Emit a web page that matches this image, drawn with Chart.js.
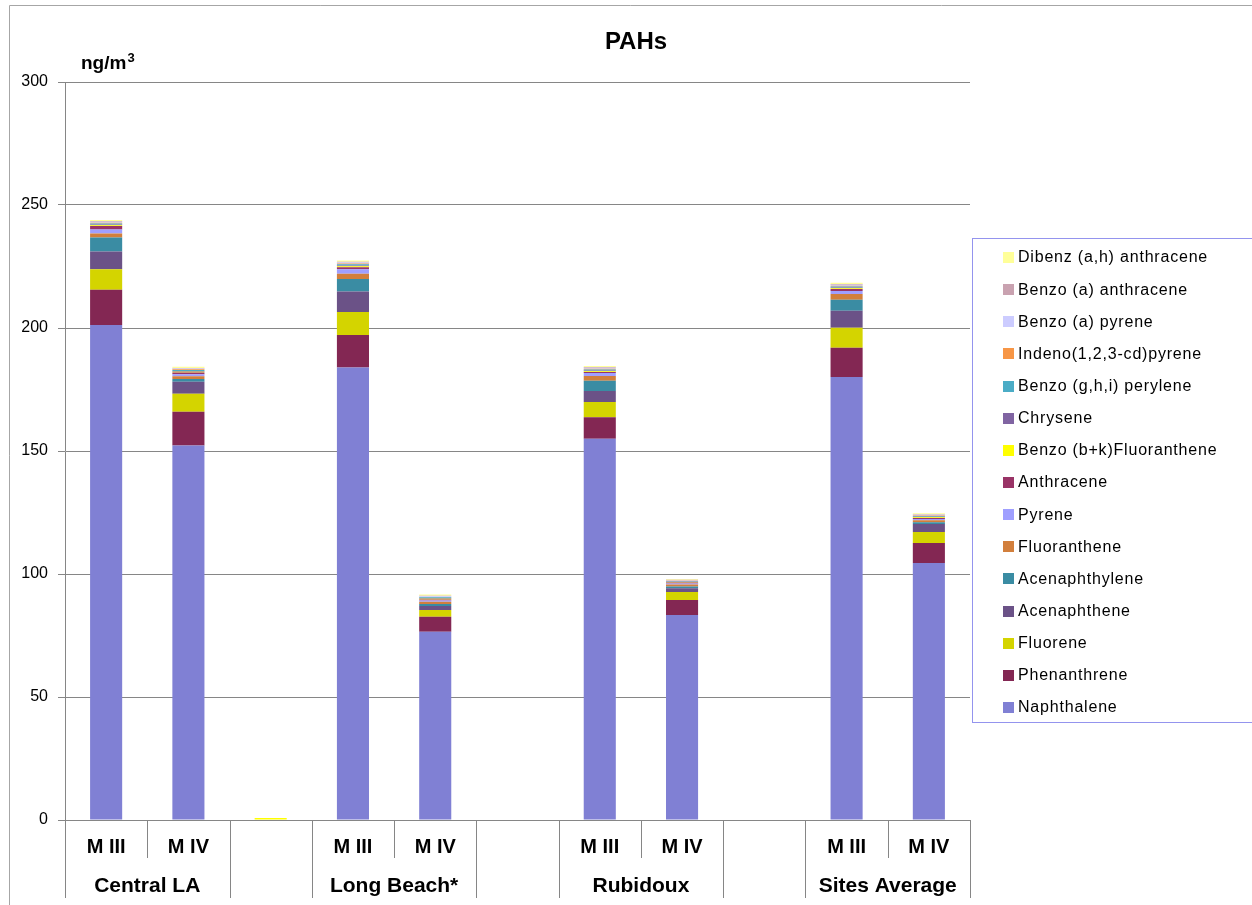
<!DOCTYPE html>
<html>
<head>
<meta charset="utf-8">
<title>PAHs</title>
<script src="https://cdn.jsdelivr.net/npm/chart.js@4/dist/chart.umd.min.js"></script>
<style>
  body { margin: 0; background: #fff; }
  #wrap { width: 1252px; height: 905px; }
</style>
</head>
<body>
<div id="wrap"><canvas id="pahChart" width="1252" height="905"></canvas></div>
<script>
/////////////////////////////////////////////////////
// Data
/////////////////////////////////////////////////////

// 11 slots: two per site plus an empty slot between sites
var categories = ["M III", "M IV", "", "M III", "M IV", "", "M III", "M IV", "", "M III", "M IV"];

// site labels and the first slot each one covers (span of 2, gaps have no label)
var groupNames = ["Central LA", "Long Beach*", "Rubidoux", "Sites Average"];
var groupStarts = [0, 3, 6, 9];

var yTicks = [0, 50, 100, 150, 200, 250, 300];

// series, bottom of the stack first (ng/m3)
var naphthalene    = [201.2, 152.2, 0, 183.9, 76.5, 0, 155.0, 83.3, 0, 180.1, 104.5];
var phenanthrene   = [14.3, 13.8, 0, 13.3, 6.1, 0, 8.7, 6.1, 0, 11.9, 8.1];
var fluorene       = [8.4, 7.3, 0, 9.3, 2.8, 0, 6.2, 3.3, 0, 8.1, 4.5];
var acenaphthene   = [7.2, 4.9, 0, 8.3, 1.6, 0, 4.5, 1.5, 0, 6.9, 3.2];
var acenaphthylene = [5.7, 1.1, 0, 5.1, 0.8, 0, 4.2, 0.7, 0, 4.5, 0.7];
var fluoranthene   = [1.6, 1.1, 0, 2.2, 0.9, 0, 1.9, 0.8, 0, 2.3, 0.9];
var pyrene         = [1.6, 0.8, 0, 1.8, 0.5, 0, 1.2, 0.4, 0, 1.2, 0.5];
var anthracene     = [1.5, 0.7, 0, 0.8, 0.4, 0, 0.4, 0.4, 0, 0.9, 0.4];
var benzoBK        = [0.3, 0.3, 0.8, 0.4, 0.3, 0, 0.3, 0.2, 0, 0.3, 0.3];
var chrysene       = [0.3, 0.3, 0, 0.3, 0.3, 0, 0.3, 0.2, 0, 0.3, 0.2];
var benzoGHI       = [0.4, 0.4, 0, 0.5, 0.3, 0, 0.4, 0.2, 0, 0.4, 0.3];
var indeno         = [0.3, 0.3, 0, 0.3, 0.2, 0, 0.3, 0.2, 0, 0.3, 0.2];
var benzoAP        = [0.4, 0.3, 0, 0.4, 0.3, 0, 0.4, 0.2, 0, 0.4, 0.3];
var benzoAA        = [0.3, 0.2, 0, 0.3, 0.2, 0, 0.3, 0.2, 0, 0.3, 0.2];
var dibenzAH       = [0.4, 0.5, 0, 0.5, 0.5, 0, 0.5, 0.3, 0, 0.5, 0.4];

var seriesNames = [
  "Naphthalene", "Phenanthrene", "Fluorene", "Acenaphthene", "Acenaphthylene",
  "Fluoranthene", "Pyrene", "Anthracene", "Benzo (b+k)Fluoranthene", "Chrysene",
  "Benzo (g,h,i) perylene", "Indeno(1,2,3-cd)pyrene", "Benzo (a) pyrene",
  "Benzo (a) anthracene", "Dibenz (a,h) anthracene"
];
var seriesData = [
  naphthalene, phenanthrene, fluorene, acenaphthene, acenaphthylene,
  fluoranthene, pyrene, anthracene, benzoBK, chrysene,
  benzoGHI, indeno, benzoAP, benzoAA, dibenzAH
];
var seriesColors = [
  "#8080d4", "#832753", "#d4d400", "#6b5287", "#3a8ca3",
  "#d27f3c", "#9f9fff", "#993366", "#ffff00", "#8064a2",
  "#4bacc6", "#f79646", "#ccccff", "#c9a2b0", "#ffff99"
];

var FONT = "'Liberation Sans', Arial, sans-serif";

/////////////////////////////////////////////////////
// Extra drawing: frame, titles, category separators, legend
/////////////////////////////////////////////////////

var decorations = {
  id: "decorations",
  afterDraw: function(chart) {
    var ctx = chart.ctx;
    var area = chart.chartArea;
    var x = chart.scales.x;
    ctx.save();

    // outer frame (only top and left are visible)
    ctx.strokeStyle = "#a6a6a6";
    ctx.lineWidth = 1;
    ctx.beginPath();
    ctx.moveTo(9.5, 905);
    ctx.lineTo(9.5, 5.5);
    ctx.lineTo(1252, 5.5);
    ctx.stroke();

    // title
    ctx.fillStyle = "#000";
    ctx.textAlign = "center";
    ctx.textBaseline = "middle";
    ctx.font = "bold 24px " + FONT;
    ctx.fillText("PAHs", 636, 42);

    // unit label
    ctx.textAlign = "left";
    ctx.font = "bold 19px " + FONT;
    ctx.fillText("ng/m", 81, 64);
    var w = ctx.measureText("ng/m").width;
    ctx.font = "bold 13px " + FONT;
    ctx.fillText("3", 81 + w + 1, 58);

    // category separators: long ones between sites, short ones inside a site
    var longBottom = 898, shortBottom = 858;
    ctx.strokeStyle = "#868686";
    for (var i = 0; i <= categories.length; i++) {
      var px;
      if (i === 0) px = area.left;
      else if (i === categories.length) px = area.right;
      else px = (x.getPixelForValue(i - 1) + x.getPixelForValue(i)) / 2;
      var inside = groupStarts.indexOf(i - 1) !== -1;
      ctx.beginPath();
      ctx.moveTo(Math.round(px) + 0.5, area.bottom);
      ctx.lineTo(Math.round(px) + 0.5, inside ? shortBottom : longBottom);
      ctx.stroke();
    }

    // site labels
    ctx.textAlign = "center";
    ctx.font = "bold 21px " + FONT;
    for (var g = 0; g < groupNames.length; g++) {
      var s = groupStarts[g];
      var cx = (x.getPixelForValue(s) + x.getPixelForValue(s + 1)) / 2;
      ctx.fillText(groupNames[g], cx, 886);
    }

    // legend box, top item is the last series
    var boxX = 972.5, boxY = 238.5;
    ctx.strokeStyle = "#9494ee";
    ctx.strokeRect(boxX, boxY, 300, 484);
    ctx.textAlign = "left";
    ctx.font = "16px " + FONT;
    ctx.letterSpacing = "0.8px";
    var n = seriesNames.length;
    for (var k = 0; k < n; k++) {
      var idx = n - 1 - k;
      var cy = 257 + k * 32.14;
      ctx.fillStyle = seriesColors[idx];
      ctx.fillRect(1003, Math.round(cy) - 5, 11, 11);
      ctx.fillStyle = "#000";
      ctx.fillText(seriesNames[idx], 1018, cy + 1);
    }
    ctx.letterSpacing = "0px";

    ctx.restore();
  }
};

/////////////////////////////////////////////////////
// Chart
/////////////////////////////////////////////////////

var datasets = [];
for (var d = 0; d < seriesData.length; d++) {
  datasets.push({
    label: seriesNames[d],
    data: seriesData[d],
    backgroundColor: seriesColors[d],
    borderWidth: 0,
    categoryPercentage: 1.0,
    barPercentage: 0.39
  });
}

var ctx = document.getElementById("pahChart").getContext("2d");
var pahChart = new Chart(ctx, {
  type: "bar",
  data: {
    labels: categories,
    datasets: datasets
  },
  options: {
    responsive: false,
    animation: false,
    layout: {
      padding: { top: 82, right: 282, left: 0, bottom: 0 }
    },
    plugins: {
      legend: { display: false },
      title: { display: false },
      tooltip: { enabled: false }
    },
    scales: {
      x: {
        stacked: true,
        grid: { display: false, drawTicks: false },
        border: { display: false },
        ticks: {
          color: "#000",
          font: { family: FONT, size: 20, weight: "bold" },
          padding: 15,
          maxRotation: 0,
          autoSkip: false
        },
        afterFit: function(scale) { scale.height = 85; }
      },
      y: {
        stacked: true,
        min: 0,
        max: 300,
        afterBuildTicks: function(scale) {
          scale.ticks = yTicks.map(function(v) { return { value: v }; });
        },
        grid: { color: "#868686", tickLength: 7 },
        border: { color: "#868686" },
        ticks: {
          color: "#000",
          font: { family: FONT, size: 16 },
          padding: 10
        },
        afterFit: function(scale) { scale.width = 65; }
      }
    }
  },
  plugins: [decorations]
});
</script>
</body>
</html>
